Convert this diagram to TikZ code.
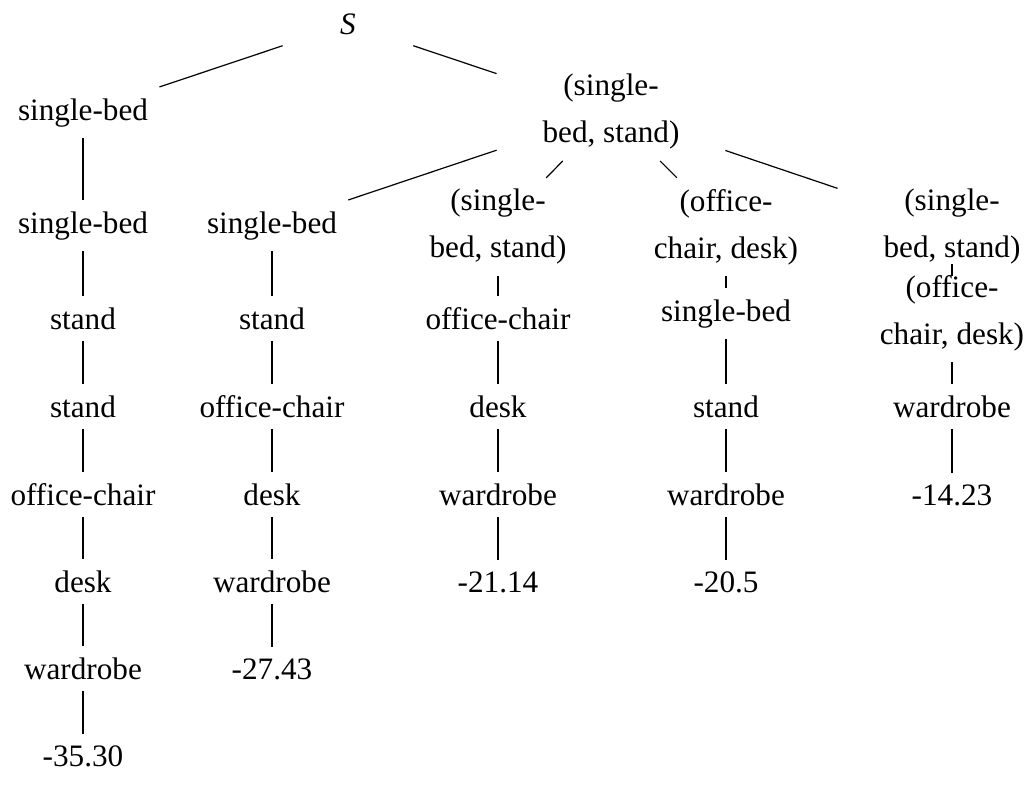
\documentclass[tikz,border=0pt]{standalone}
\usepackage{fontspec}
\setmainfont{Liberation Serif}
\begin{document}
\begin{tikzpicture}[x=0.5pt, y=-0.5pt,
  every node/.style={font=\fontsize{15.6}{23.5}\selectfont, inner sep=5.5pt, minimum width=114pt, align=center},
  lbl/.style={anchor=base},
  two/.style={anchor=center},
  conn/.style={draw, line width=0.6pt}]
\useasboundingbox (0,0) rectangle (1034,784);
% root and level 1
\node[lbl] (S) at (348,34) {\textit{S}};
\node[lbl] (a1) at (83,120) {single-bed};
\node[two] (b1) at (611,111.9) {(single-\\bed, stand)};
% column 1
\node[lbl] (a2) at (83,233) {single-bed};
\node[lbl] (a3) at (83,329) {stand};
\node[lbl] (a4) at (83,417) {stand};
\node[lbl] (a5) at (83,505) {office-chair};
\node[lbl] (a6) at (83,592) {desk};
\node[lbl] (a7) at (83,679) {wardrobe};
\node[lbl] (a8) at (83,766) {-35.30};
% column 2
\node[lbl] (c2) at (272,233) {single-bed};
\node[lbl] (c3) at (272,329) {stand};
\node[lbl] (c4) at (272,417) {office-chair};
\node[lbl] (c5) at (272,505) {desk};
\node[lbl] (c6) at (272,592) {wardrobe};
\node[lbl] (c7) at (272,679) {-27.43};
% column 3
\node[two] (d2) at (498,226.9) {(single-\\bed, stand)};
\node[lbl] (d3) at (498,329) {office-chair};
\node[lbl] (d4) at (498,417) {desk};
\node[lbl] (d5) at (498,505) {wardrobe};
\node[lbl] (d6) at (498,592) {-21.14};
% column 4
\node[two] (e2) at (726,226.9) {(office-\\chair, desk)};
\node[lbl] (e3) at (726,321) {single-bed};
\node[lbl] (e4) at (726,417) {stand};
\node[lbl] (e5) at (726,505) {wardrobe};
\node[lbl] (e6) at (726,592) {-20.5};
% column 5
\node[two] (f2) at (952,226.9) {(single-\\bed, stand)};
\node[two] (f3) at (952,313) {(office-\\chair, desk)};
\node[lbl] (f4) at (952,417) {wardrobe};
\node[lbl] (f5) at (952,505) {-14.23};
% connectors
\path[conn] (S) -- (a1);
\path[conn] (S) -- (b1);
\path[conn] (a1) -- (a2);
\path[conn] (a2) -- (a3);
\path[conn] (a3) -- (a4);
\path[conn] (a4) -- (a5);
\path[conn] (a5) -- (a6);
\path[conn] (a6) -- (a7);
\path[conn] (a7) -- (a8);
\path[conn] (b1) -- (c2);
\path[conn] (b1) -- (d2);
\path[conn] (b1) -- (e2);
\path[conn] (b1) -- (f2);
\path[conn] (c2) -- (c3);
\path[conn] (c3) -- (c4);
\path[conn] (c4) -- (c5);
\path[conn] (c5) -- (c6);
\path[conn] (c6) -- (c7);
\path[conn] (d2) -- (d3);
\path[conn] (d3) -- (d4);
\path[conn] (d4) -- (d5);
\path[conn] (d5) -- (d6);
\path[conn] (e2) -- (e3);
\path[conn] (e3) -- (e4);
\path[conn] (e4) -- (e5);
\path[conn] (e5) -- (e6);
\path[conn] (f2) -- (f3);
\path[conn] (f3) -- (f4);
\path[conn] (f4) -- (f5);
\end{tikzpicture}
\end{document}
